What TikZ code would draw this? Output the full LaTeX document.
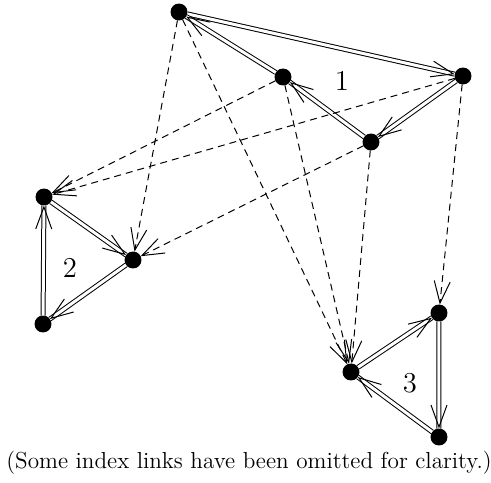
\documentclass[tikz,border=0pt]{standalone}
\usetikzlibrary{arrows.meta,calc}
\tikzset{
    dot/.style={circle, fill=black, inner sep=0pt, outer sep=0pt, minimum size=8.5pt},
    ring/.style={double, double distance=1.5pt, line width=0.5pt},
    barb/.style={white, -{Straight Barb[black, length=11pt, width=8pt]}, line width=0.5pt},
    link/.style={dash pattern=on 3.5pt off 2.5pt, line width=0.5pt, -{Straight Barb[length=11pt, width=8pt]}},
}
\begin{document}
\begin{tikzpicture}[scale=0.88]
            \useasboundingbox (0,0) rectangle (9.82,9.64);

            % cluster 1
            \node[dot] (a) at (3.58,9.40) {};
            \node[dot] (b) at (5.66,8.10) {};
            \node[dot] (c) at (9.26,8.12) {};
            \node[dot] (d) at (7.42,6.80) {};
            % cluster 2
            \node[dot] (e) at (0.88,5.70) {};
            \node[dot] (f) at (2.66,4.44) {};
            \node[dot] (g) at (0.86,3.16) {};
            % cluster 3
            \node[dot] (h) at (8.78,3.38) {};
            \node[dot] (i) at (7.02,2.20) {};
            \node[dot] (j) at (8.78,0.90) {};

            \node[font=\Large] (one) at (6.84,8.02) {1};
            \node[font=\Large] (two) at (1.40,4.28) {2};
            \node[font=\Large] (three) at (8.20,1.98) {3};

            % rings
            \foreach \s/\t in {a/c, c/d, d/b, b/a, e/f, f/g, g/e, i/h, h/j, j/i} {
                    \draw[ring] (\s) -- (\t);
                    \draw[barb] ($(\t)!16pt!(\s)$) -- (\t);
                }

            % index links
            \foreach \s/\t in {a/f, a/i, b/e, b/i, c/e, c/h, d/f, d/i} {
                    \draw[link] (\s) -- (\t);
                }

            \node[font=\fontsize{11.6}{13}\selectfont] (caption) at (4.98,0.38) {(Some index links have been omitted for clarity.)};
        \end{tikzpicture}
\end{document}
